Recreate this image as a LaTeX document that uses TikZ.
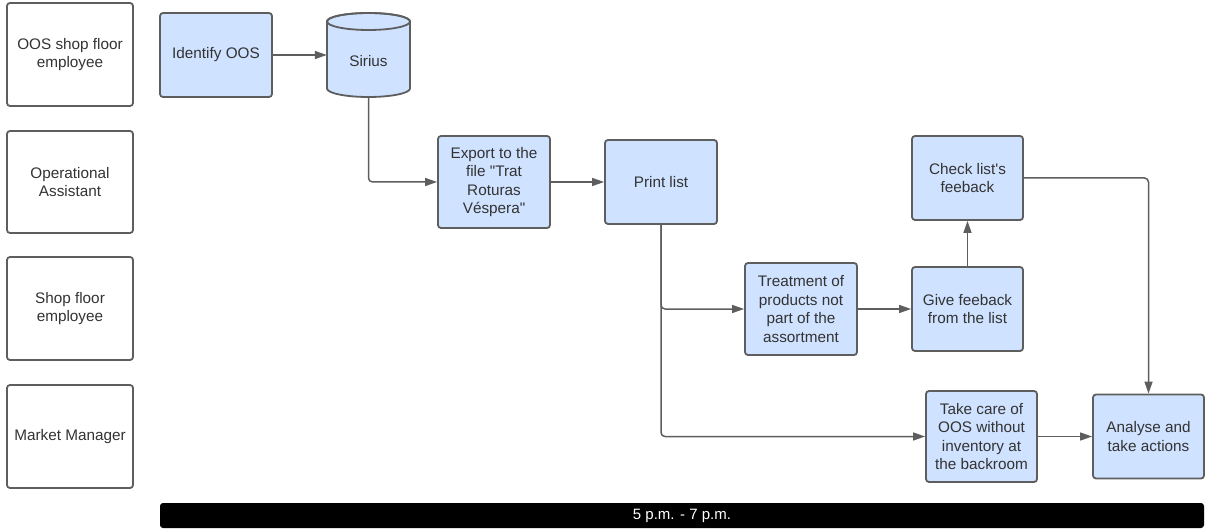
\documentclass[tikz,border=0pt]{standalone}
\usepackage{fontspec}
\setmainfont{Liberation Sans}[Ligatures=TeXOff]
\usetikzlibrary{arrows.meta}
\definecolor{bluefill}{HTML}{CFE2FF}
\definecolor{edgegray}{HTML}{5E5E5E}
\definecolor{txtgray}{HTML}{333333}
\tikzset{
  lane/.style={draw=edgegray, line width=1.8pt, rounded corners=3pt, fill=white,
    minimum width=126pt, inner sep=0pt, align=center, text=txtgray,
    font=\fontsize{15.3}{18.6}\selectfont},
  proc/.style={draw=edgegray, line width=1.8pt, rounded corners=3pt, fill=bluefill,
    inner sep=0pt, align=center, text=txtgray,
    font=\fontsize{15.3}{18.6}\selectfont},
  conn/.style={draw=edgegray, line width=1.5pt, rounded corners=4pt,
    -{Triangle[length=12pt,width=8pt]}},
}
\begin{document}
\begin{tikzpicture}[x=1pt,y=-1pt]
\useasboundingbox (0,0) rectangle (1207,529);
% lanes
\node[lane, minimum height=103pt] (l1) at (70,54.5) {OOS shop floor\\employee};
\node[lane, minimum height=102pt] (l2) at (70,182) {Operational\\Assistant};
\node[lane, minimum height=103pt] (l3) at (70,308.5) {Shop floor\\employee};
\node[lane, minimum height=103pt] (l4) at (70,436.5) {Market Manager};
% process boxes
\node[proc, minimum width=112pt, minimum height=84pt] (identify) at (216,55) {Identify OOS};
% cylinder
\filldraw[draw=edgegray, fill=bluefill, line width=1.8pt]
  (327,21.5) -- (327,88.5) arc[start angle=180, end angle=0, x radius=41.5, y radius=8.5]
  -- (410,21.5) arc[start angle=0, end angle=-180, x radius=41.5, y radius=8.5] -- cycle;
\draw[draw=edgegray, line width=1.8pt] (368.5,21.5) ellipse[x radius=41.5, y radius=8.5];
\node[minimum width=83pt, minimum height=84pt, inner sep=0pt] (sirius) at (368.5,55) {};
\node[text=txtgray, font=\fontsize{15.3}{18.6}\selectfont] (siriustxt) at (368.5,61) {Sirius};
\node[proc, minimum width=112pt, minimum height=92pt] (export) at (494,182) {Export to the\\file "Trat\\Roturas\\Véspera"};
\node[proc, minimum width=112pt, minimum height=84pt] (print) at (661,182) {Print list};
\node[proc, minimum width=112pt, minimum height=92pt] (treat) at (801,309) {Treatment of\\products not\\part of the\\assortment};
\node[proc, minimum width=111pt, minimum height=84pt] (give) at (967.5,309) {Give feeback\\from the list};
\node[proc, minimum width=111pt, minimum height=84pt] (check) at (967.5,178) {Check list's\\feeback};
\node[proc, minimum width=111pt, minimum height=91pt] (take) at (981.5,436.5) {Take care of\\OOS without\\inventory at\\the backroom};
\node[proc, minimum width=111pt, minimum height=84pt] (analyse) at (1148.5,436.5) {Analyse and\\take actions};
% time bar
\node[fill=black, rounded corners=3pt, minimum width=1044pt, minimum height=25pt, inner sep=0pt,
  text=white, font=\fontsize{15}{17}\selectfont] (bar) at (682,515.5) {5 p.m. - 7 p.m.};
% connectors
\draw[conn] (identify.east) -- (sirius.west);
\draw[conn] (sirius.south) |- (export.west);
\draw[conn] (export.east) -- (print.west);
\draw[conn] (print.south) |- (treat.west);
\draw[conn] (print.south) |- (take.west);
\draw[conn] (treat.east) -- (give.west);
\draw[conn] (give.north) -- (check.south);
\draw[conn] (check.east) -| (analyse.north);
\draw[conn] (take.east) -- (analyse.west);
\end{tikzpicture}
\end{document}
